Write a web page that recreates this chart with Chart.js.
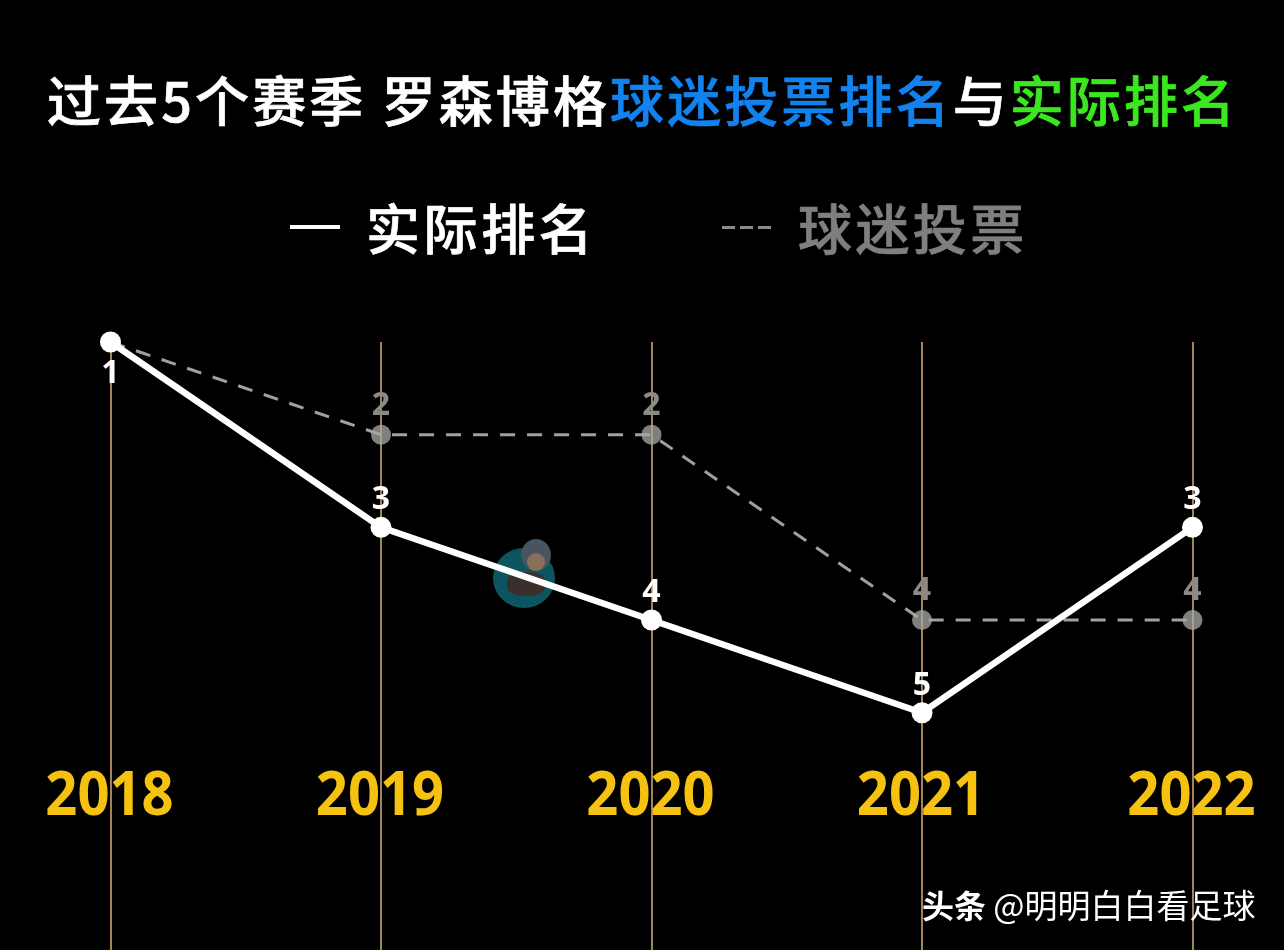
<!DOCTYPE html>
<html lang="zh">
<head>
<meta charset="utf-8">
<title>罗森博格排名</title>
<script src="https://cdn.jsdelivr.net/npm/chart.js@4"></script>
<style>
    html, body { margin: 0; padding: 0; background: #000; overflow: hidden; }
    body { width: 1284px; height: 950px; position: relative; font-family: "Noto Sans CJK SC", sans-serif; }
    #wrap { position: absolute; left: 0; top: 0; width: 1284px; height: 960px; }
    .txt { position: absolute; white-space: nowrap; font-weight: 700; color: #fff; line-height: 1; }
    #title { left: 47px; top: 72px; font-size: 54px; letter-spacing: 3.1px; font-weight: 500; -webkit-text-stroke: 0.7px; }
    #title .blue { color: #1283ee; }
    #title .green { color: #3be820; }
    #leg1 { left: 366px; top: 200px; font-size: 54px; letter-spacing: 3.6px; font-weight: 500; -webkit-text-stroke: 0.7px; }
    #leg2 { left: 798px; top: 200px; font-size: 54px; letter-spacing: 3.4px; font-weight: 500; -webkit-text-stroke: 0.7px; color: #7f7f7f; }
    #dash1 { position: absolute; left: 290px; top: 225px; width: 50px; height: 4px; background: #fff; }
    #dash2 { position: absolute; left: 722px; top: 226px; width: 50px; height: 3px;
             background: repeating-linear-gradient(90deg, #8c8c8c 0 13px, transparent 13px 18px); }
    #credit { left: 922px; top: 888px; font-size: 32px; }
    #credit span { font-weight: 400; font-size: 33px; }
    /* watermark avatar */
    #badge { position: absolute; left: 493px; top: 548px; width: 62px; height: 60px; border-radius: 50%; background: #0c5560; }
    #head { position: absolute; left: 521px; top: 539px; width: 30px; height: 32px; border-radius: 50%; background: #46555f; }
    #face { position: absolute; left: 527px; top: 553px; width: 18px; height: 18px; border-radius: 50%; background: #8a6f5c; }
    #body2 { position: absolute; left: 507px; top: 572px; width: 38px; height: 24px; border-radius: 40%; background: #3b2f2b; }
</style>
</head>
<body>
<div id="badge"></div><div id="head"></div><div id="face"></div><div id="body2"></div>
<div id="wrap"><canvas id="rankChart"></canvas></div>

<div class="txt" id="title">过去5个赛季 罗森博格<span class="blue">球迷投票排名</span>与<span class="green">实际排名</span></div>
<div id="dash1"></div>
<div class="txt" id="leg1">实际排名</div>
<div id="dash2"></div>
<div class="txt" id="leg2">球迷投票</div>
<div class="txt" id="credit">头条 <span>@明明白白看足球</span></div>

<script>
const years = ["2018", "2019", "2020", "2021", "2022"];
const actualRank = [1, 3, 4, 5, 3];
const fanVote = [1, 2, 2, 4, 4];

// year labels sit between rank 5 and the bottom of the picture
const yearLabelRank = 5.92;

const pointLabels = {
    id: "pointLabels",
    afterDatasetsDraw(chart) {
        const ctx = chart.ctx;
        const x = chart.scales.x;
        const y = chart.scales.y;

        ctx.save();
        ctx.textAlign = "center";
        ctx.textBaseline = "middle";

        // ===== RANK NUMBERS =====
        ctx.font = "700 32px 'Noto Sans', sans-serif";
        fanVote.forEach((v, i) => {
            if (i === 0) return;
            ctx.fillStyle = "#8a8a8a";
            ctx.fillText(v, x.getPixelForValue(i), y.getPixelForValue(v) - 29);
        });
        actualRank.forEach((v, i) => {
            ctx.fillStyle = "#ffffff";
            const offset = i === 0 ? 32 : -27;
            ctx.fillText(v, x.getPixelForValue(i), y.getPixelForValue(v) + offset);
        });

        // ===== YEARS =====
        ctx.fillStyle = "#f5c211";
        years.forEach((label, i) => {
            ctx.save();
            ctx.translate(x.getPixelForValue(i) - 1, y.getPixelForValue(yearLabelRank));
            ctx.scale(0.92, 1);
            ctx.font = "700 61px 'Noto Sans', sans-serif";
            ctx.fillText(label, 0, 0);
            ctx.restore();
        });
        ctx.restore();
    }
};

new Chart(document.getElementById("rankChart").getContext("2d"), {
    type: "line",
    data: {
        labels: years,
        datasets: [
            {
                label: "实际排名",
                data: actualRank,
                borderColor: "#ffffff",
                backgroundColor: "#ffffff",
                borderWidth: 6.5,
                pointRadius: 10.5,
                pointBackgroundColor: "#ffffff",
                pointBorderWidth: 0,
                tension: 0,
                clip: false,
                order: 1
            },
            {
                label: "球迷投票",
                data: fanVote,
                borderColor: "#a0a0a0",
                borderWidth: 3,
                borderDash: [15, 12],
                pointRadius: 10,
                pointBackgroundColor: "rgba(170,170,170,0.75)",
                pointBorderWidth: 0,
                tension: 0,
                clip: false,
                order: 2
            }
        ]
    },
    options: {
        responsive: true,
        maintainAspectRatio: false,
        animation: false,
        layout: { padding: { left: 110.5, right: 91.5, top: 342, bottom: 0 } },
        plugins: {
            legend: { display: false },
            tooltip: { enabled: false }
        },
        scales: {
            x: {
                display: true,
                offset: false,
                border: { display: false },
                ticks: { display: false },
                grid: { color: "#a5815a", lineWidth: 2, drawTicks: false }
            },
            y: {
                display: false,
                reverse: true,
                min: 1,
                max: 7.555
            }
        }
    },
    plugins: [pointLabels]
});
</script>
</body>
</html>
